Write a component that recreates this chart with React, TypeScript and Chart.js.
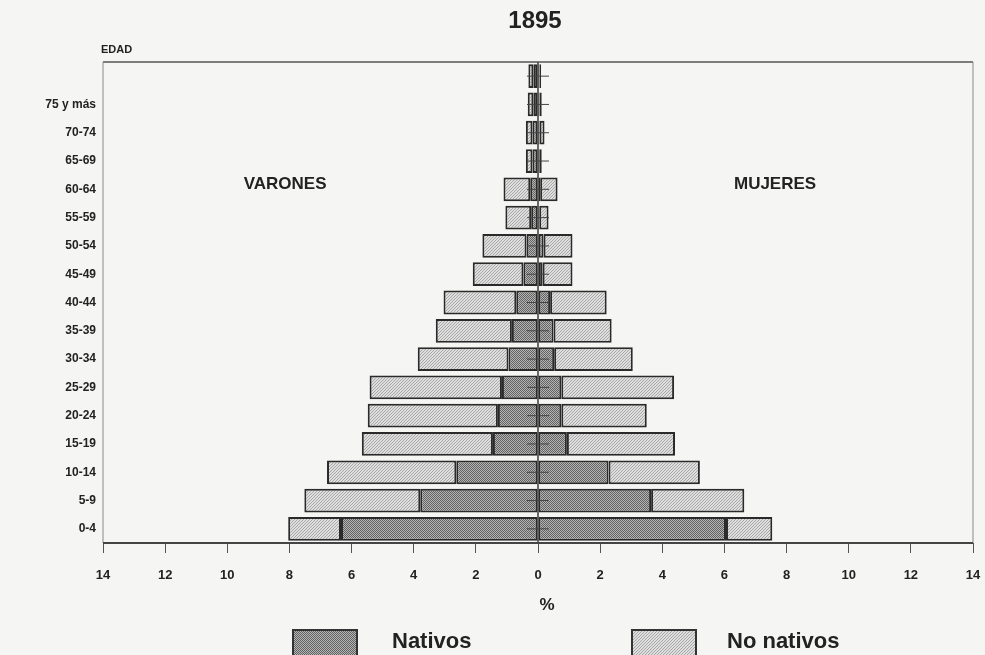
import React, { useEffect, useRef } from "react";
import { Chart, registerables } from "chart.js";

Chart.register(...registerables);

const TITLE = "1895";
const AGE_GROUPS = ["", "75 y más", "70-74", "65-69", "60-64", "55-59", "50-54", "45-49", "40-44", "35-39", "30-34", "25-29", "20-24", "15-19", "10-14", "5-9", "0-4"];
const VARONES_NATIVOS = [0.15, 0.15, 0.18, 0.18, 0.25, 0.22, 0.37, 0.47, 0.7, 0.84, 0.95, 1.16, 1.29, 1.45, 2.63, 3.79, 6.34];
const VARONES_NO_NATIVOS = [0.16, 0.18, 0.21, 0.21, 0.86, 0.83, 1.42, 1.63, 2.34, 2.45, 2.92, 4.26, 4.19, 4.22, 4.16, 3.73, 1.7];
const MUJERES_NATIVOS = [0.05, 0.05, 0.05, 0.04, 0.07, 0.04, 0.18, 0.15, 0.39, 0.5, 0.52, 0.75, 0.75, 0.93, 2.27, 3.64, 6.05];
const MUJERES_NO_NATIVOS = [0.05, 0.07, 0.16, 0.08, 0.56, 0.3, 0.93, 0.96, 1.82, 1.87, 2.53, 3.63, 2.75, 3.48, 2.94, 3.0, 1.49];
const X_MIN = -14;
const X_MAX = 14;
const X_STEP = 2;
const SERIES_LABELS = ["Nativos", "No nativos"];
const AXIS_TITLE = "%";
const Y_TITLE = "EDAD";
const SIDE_LABELS = ["VARONES", "MUJERES"];

const FONT = "'Liberation Sans', Arial, Helvetica, sans-serif";
const INK = "#222222";
const BG = "#f5f5f3";

function makePattern(kind: "dark" | "light"): CanvasPattern | string {
  const c = document.createElement("canvas");
  const g = c.getContext("2d");
  if (!g) return kind === "dark" ? "#939393" : "#cecece";
  if (kind === "dark") {
    c.width = 2;
    c.height = 2;
    g.fillStyle = "#b4b4b4";
    g.fillRect(0, 0, 2, 2);
    g.fillStyle = "#626262";
    g.fillRect(0, 0, 1, 1);
    g.fillRect(1, 1, 1, 1);
  } else {
    c.width = 3;
    c.height = 3;
    g.fillStyle = "#dedede";
    g.fillRect(0, 0, 3, 3);
    g.fillStyle = "#a8a8a8";
    g.fillRect(0, 0, 1, 1);
    g.fillRect(1, 2, 1, 1);
    g.fillRect(2, 1, 1, 1);
  }
  const p = g.createPattern(c, "repeat");
  return p || (kind === "dark" ? "#939393" : "#cecece");
}

export default function App() {
  const ref = useRef<HTMLCanvasElement | null>(null);

  useEffect(() => {
    const canvas = ref.current;
    if (!canvas) return;
    const dark = makePattern("dark");
    const light = makePattern("light");

    const decor = {
      id: "decor",
      beforeDraw(chart: any) {
        const ctx = chart.ctx;
        ctx.save();
        ctx.fillStyle = BG;
        ctx.fillRect(0, 0, chart.width, chart.height);
        ctx.restore();
      },
      afterDatasetsDraw(chart: any) {
        const ctx = chart.ctx;
        const xs = chart.scales.x;
        const ys = chart.scales.y;
        const a = chart.chartArea;
        const x0 = xs.getPixelForValue(0);
        ctx.save();
        ctx.strokeStyle = "#3a3a3a";
        ctx.lineWidth = 1.5;
        ctx.beginPath();
        ctx.moveTo(x0, a.top);
        ctx.lineTo(x0, a.bottom);
        ctx.stroke();
        ctx.lineWidth = 1;
        ctx.strokeStyle = "#444";
        AGE_GROUPS.forEach((_, i) => {
          const y = ys.getPixelForValue(i);
          ctx.beginPath();
          ctx.moveTo(x0 - 11, y);
          ctx.lineTo(x0 + 11, y);
          ctx.stroke();
        });
        ctx.restore();
      },
      afterDraw(chart: any) {
        const ctx = chart.ctx;
        const a = chart.chartArea;
        const xs = chart.scales.x;
        ctx.save();
        // frame
        ctx.strokeStyle = "#555";
        ctx.lineWidth = 1.5;
        ctx.beginPath();
        ctx.moveTo(a.left, a.top);
        ctx.lineTo(a.right, a.top);
        ctx.stroke();
        ctx.strokeStyle = "#8a8a8a";
        ctx.lineWidth = 1;
        ctx.beginPath();
        ctx.moveTo(a.right, a.top);
        ctx.lineTo(a.right, a.bottom);
        ctx.moveTo(a.left, a.top);
        ctx.lineTo(a.left, a.bottom);
        ctx.stroke();
        ctx.strokeStyle = "#444";
        ctx.lineWidth = 2;
        ctx.beginPath();
        ctx.moveTo(a.left, a.bottom);
        ctx.lineTo(a.right, a.bottom);
        ctx.stroke();

        ctx.fillStyle = INK;
        ctx.textBaseline = "middle";
        // title
        ctx.textAlign = "center";
        ctx.font = `bold 24px ${FONT}`;
        ctx.fillText(TITLE, xs.getPixelForValue(0) - 3, 21);
        // axis title
        ctx.font = `bold 17px ${FONT}`;
        ctx.fillText(AXIS_TITLE, xs.getPixelForValue(0) + 9, 605);
        // EDAD
        ctx.textAlign = "left";
        ctx.font = `bold 11px ${FONT}`;
        ctx.fillText(Y_TITLE, a.left - 2, 50);
        // side labels
        ctx.textAlign = "center";
        ctx.font = `bold 17px ${FONT}`;
        ctx.fillText(SIDE_LABELS[0], xs.getPixelForValue(-8.14), 184);
        ctx.fillText(SIDE_LABELS[1], xs.getPixelForValue(7.63), 184);

        // legend
        const items = [
          { label: SERIES_LABELS[0], fill: dark, box: 293, text: 392 },
          { label: SERIES_LABELS[1], fill: light, box: 632, text: 727 },
        ];
        ctx.font = `bold 22px ${FONT}`;
        ctx.textAlign = "left";
        items.forEach((it) => {
          ctx.fillStyle = it.fill as any;
          ctx.fillRect(it.box, 630, 64, 30);
          ctx.strokeStyle = "#333";
          ctx.lineWidth = 2;
          ctx.strokeRect(it.box, 630, 64, 30);
          ctx.fillStyle = INK;
          ctx.fillText(it.label, it.text, 642);
        });
        ctx.restore();
      },
    };

    const common = {
      borderColor: "#2a2a2a",
      borderWidth: 2,
      borderSkipped: false as const,
      barPercentage: 0.84,
      categoryPercentage: 1,
      stack: "pyr",
    };

    const chart = new Chart(canvas, {
      type: "bar",
      data: {
        labels: AGE_GROUPS,
        datasets: [
          { ...common, label: `${SERIES_LABELS[0]} varones`, data: VARONES_NATIVOS.map((v) => -v), backgroundColor: dark as any },
          { ...common, label: `${SERIES_LABELS[1]} varones`, data: VARONES_NO_NATIVOS.map((v) => -v), backgroundColor: light as any },
          { ...common, label: `${SERIES_LABELS[0]} mujeres`, data: MUJERES_NATIVOS, backgroundColor: dark as any },
          { ...common, label: `${SERIES_LABELS[1]} mujeres`, data: MUJERES_NO_NATIVOS, backgroundColor: light as any },
        ],
      },
      options: {
        indexAxis: "y",
        responsive: false,
        animation: false,
        devicePixelRatio: 1,
        layout: { padding: { top: 62, right: 12, bottom: 0, left: 0 } },
        plugins: {
          legend: { display: false },
          title: { display: false },
          tooltip: { enabled: false },
        },
        scales: {
          x: {
            type: "linear",
            min: X_MIN,
            max: X_MAX,
            stacked: true,
            border: { display: false },
            grid: { display: true, drawOnChartArea: false, drawTicks: true, tickLength: 10, color: "#555", lineWidth: 1 },
            ticks: {
              stepSize: X_STEP,
              padding: 15,
              color: INK,
              font: { family: FONT, size: 13, weight: "bold" },
              callback: (v: any) => String(Math.abs(Number(v))),
            },
            afterFit: (s: any) => {
              s.height = 112;
              s.paddingLeft = 0;
              s.paddingRight = 0;
            },
          },
          y: {
            type: "category",
            stacked: true,
            border: { display: false },
            grid: { display: false, drawTicks: false, tickLength: 0 },
            ticks: {
              autoSkip: false,
              padding: 7,
              color: INK,
              font: { family: FONT, size: 12, weight: "bold" },
            },
            afterFit: (s: any) => {
              s.width = 103;
              s.paddingTop = 0;
              s.paddingBottom = 0;
            },
          },
        },
      },
      plugins: [decor],
    });
    return () => chart.destroy();
  }, []);

  return (
    <div style={{ position: "fixed", left: 0, top: 0, width: 985, height: 655, background: BG }}>
      <canvas ref={ref} width={985} height={655} style={{ display: "block", width: 985, height: 655 }} />
    </div>
  );
}
